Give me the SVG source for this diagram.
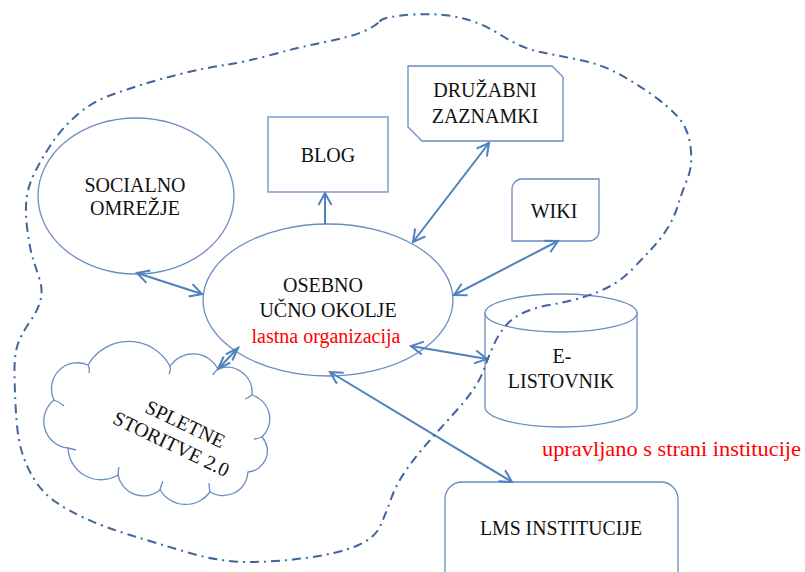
<svg xmlns="http://www.w3.org/2000/svg" width="805" height="572" viewBox="0 0 805 572">
<style>
.node{fill:#fff;stroke:#6a8cc2;stroke-width:1.3}
.t{font-family:"Liberation Serif","Times New Roman",serif;font-size:20px;fill:#111;text-anchor:middle}
.red{fill:#ff0000}
.con{fill:none;stroke:#4f81bd;stroke-width:2}
.bd{fill:none;stroke:#3f659c;stroke-width:2;stroke-dasharray:9 5 2 5}
</style>
<defs>
<marker id="ah" viewBox="-15 -9 18 18" refX="0" refY="0" markerWidth="18" markerHeight="18" markerUnits="userSpaceOnUse" orient="auto-start-reverse">
<path d="M-12,-6.5 L0,0 L-12,6.5" fill="none" stroke="#4f81bd" stroke-width="2"/>
</marker>
<marker id="ahs" viewBox="-15 -9 18 18" refX="0" refY="0" markerWidth="18" markerHeight="18" markerUnits="userSpaceOnUse" orient="auto-start-reverse">
<path d="M-13,-4.5 L0,0 L-13,4.5" fill="none" stroke="#4f81bd" stroke-width="2"/>
</marker>
</defs>

<g id="socialno">
<ellipse class="node" cx="136" cy="196" rx="98" ry="78"/>
<text class="t" x="135" y="192">SOCIALNO</text>
<text class="t" x="135" y="215">OMREŽJE</text>
</g>

<g id="blog">
<rect class="node" x="268" y="117" width="120" height="75"/>
<text class="t" x="328" y="162">BLOG</text>
</g>

<g id="druzabni">
<polygon class="node" points="408,66 552,66 563,77 563,141 422,141 408,127"/>
<text class="t" x="485" y="97">DRUŽABNI</text>
<text class="t" x="485" y="123">ZAZNAMKI</text>
</g>

<g id="wiki">
<path class="node" d="M522,179 L599,179 L599,231 A10,10 0 0 1 589,241 L512,241 L512,189 A10,10 0 0 1 522,179 Z"/>
<text class="t" x="554" y="218">WIKI</text>
</g>

<g id="osebno">
<ellipse class="node" cx="328" cy="300" rx="125" ry="76"/>
<text class="t" x="323" y="292">OSEBNO</text>
<text class="t" x="328" y="317">UČNO OKOLJE</text>
<text class="t red" x="326" y="343">lastna organizacija</text>
</g>

<g id="elistovnik">
<path class="node" d="M485,313 L485,407 A76,20 0 0 0 637,407 L637,313 Z"/>
<ellipse class="node" cx="561" cy="313" rx="76" ry="19"/>
<text class="t" x="562" y="363">E-</text>
<text class="t" x="561" y="388">LISTOVNIK</text>
</g>

<g id="spletne">
<path class="node" d="M54,400 A26,26 0 0 1 88,365 A47,47 0 0 1 170,366 A28,28 0 0 1 218,369 A25,25 0 0 1 252,395 A25,25 0 0 1 262,437 A21,21 0 0 1 248,472 A25,25 0 0 1 210,492 A30,30 0 0 1 160,490 A26,26 0 0 1 118,475 A33,33 0 0 1 68,448 A27,27 0 0 1 54,400 Z"/>
<path d="M88,365 Q90,369 89,373 M170,366 Q171,370 169,374 M218,369 Q214,372 213,375 M252,395 Q248,398 245,399 M262,437 Q257,439 254,439 M210,492 Q209,487 209,483 M160,490 Q161,485 163,481 M118,475 Q118,471 119,467 M68,448 Q72,449 76,450 M54,400 Q60,402 64,406" fill="none" stroke="#6a8cc2" stroke-width="1.3"/>
<g transform="translate(177,432) rotate(25.5)">
<text class="t" x="4" y="-4">SPLETNE</text>
<text class="t" x="0" y="20">STORITVE 2.0</text>
</g>
</g>

<g id="lms">
<rect class="node" x="445" y="482" width="233" height="110" rx="17"/>
<text class="t" x="561" y="535" textLength="162" lengthAdjust="spacingAndGlyphs">LMS INSTITUCIJE</text>
</g>

<text id="institucija-label" class="t red" x="542" y="456" style="text-anchor:start;font-size:21px" textLength="259" lengthAdjust="spacingAndGlyphs">upravljano s strani institucije</text>

<g id="connectors">
<line class="con" x1="137" y1="273" x2="202" y2="294" marker-start="url(#ah)" marker-end="url(#ah)"/>
<line class="con" x1="325" y1="224" x2="325" y2="193" marker-end="url(#ah)"/>
<line class="con" x1="413" y1="242" x2="489" y2="143" marker-start="url(#ah)" marker-end="url(#ah)"/>
<line class="con" x1="454" y1="295" x2="558" y2="241" marker-start="url(#ah)" marker-end="url(#ah)"/>
<line class="con" x1="411" y1="346" x2="487" y2="359" marker-start="url(#ah)" marker-end="url(#ah)"/>
<line class="con" x1="330" y1="372" x2="512" y2="482" marker-start="url(#ah)" marker-end="url(#ah)"/>
<line class="con" x1="238" y1="348" x2="218" y2="369" marker-start="url(#ahs)" marker-end="url(#ahs)"/>
</g>

<g id="boundary">
<path class="bd" d="M379.5,21.5 Q385,16 414,14.5 Q443,13 463.5,18.5 Q484,24 502.5,36 Q521,48 540.5,52 Q560,56 580,60 Q600,64 617,73 Q634,82 651,94 Q668,106 678,117 Q688,128 690.5,146.5 Q693,165 687.5,178.5 Q682,192 678,205 Q674,218 667,229 Q660,240 651.5,249 Q643,258 632.5,269 Q622,280 609.5,286.5 Q597,293 582,297.5 Q567,302 552,304.5 Q537,307 525,312 Q513,317 505.5,326 Q498,335 493,346.5 Q488,358 484,369 Q480,380 473,390 Q466,400 457,410 Q448,420 439,430 Q430,440 421.5,450 Q413,460 404.5,472.5 Q396,485 391,499 Q386,513 380.5,525.5 Q375,538 357.5,545.5 Q340,553 309,557.5 Q278,562 249,562 Q220,562 188,552.5 Q156,543 130,535 Q104,527 85.5,518.5 Q67,510 55,501.5 Q43,493 35,480.5 Q27,468 22.5,454 Q18,440 16.5,420 Q15,400 14.5,376 Q14,352 19,341 Q24,330 31,320 Q38,310 40.5,300 Q43,290 39.5,279 Q36,268 33,259 Q30,250 27.5,231 Q25,212 26.5,199 Q28,186 35,172 Q42,158 52,143 Q62,128 77,115 Q92,102 108.5,96 Q125,90 142.5,84.5 Q160,79 182.5,73.5 Q205,68 225,65 Q245,62 272.5,54.5 Q300,47 325,42 Q350,37 362,32 Q374,27 379.5,21.5 Z"/>
</g>
</svg>
